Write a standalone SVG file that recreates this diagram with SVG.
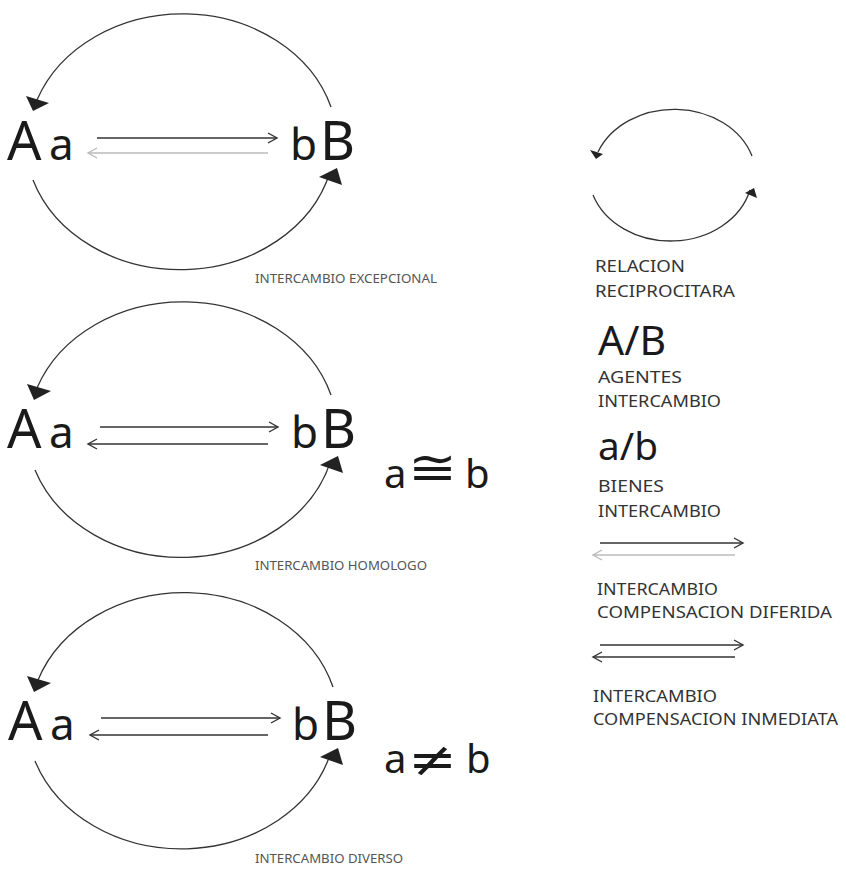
<svg xmlns="http://www.w3.org/2000/svg" width="846" height="871" viewBox="0 0 846 871">
<style>
.arc{fill:none;stroke:#333;stroke-width:1.3}
.head{fill:#222}
.big{font-family:"Noto Sans","Open Sans",sans-serif;font-size:54px;fill:#1a1a1a}
.mid{font-family:"Noto Sans","Open Sans",sans-serif;font-size:44px;fill:#1a1a1a}
.lbl{font-family:"Noto Sans","Open Sans",sans-serif;font-size:12px;fill:#555}
.leg{font-family:"Noto Sans","Open Sans",sans-serif;font-size:17px;fill:#333}
.sym{font-family:"DejaVu Sans",sans-serif;fill:#1a1a1a;font-size:48px}
.ar{stroke:#333;stroke-width:1.4;fill:none}
.ag{stroke:#bbb;stroke-width:1.4;fill:none}
</style>
<defs>
<marker id="mk" markerUnits="userSpaceOnUse" markerWidth="14" markerHeight="14" refX="10" refY="6" orient="auto">
<path d="M1,1 L10,6 L1,11" fill="none" stroke="#333" stroke-width="1.4"/>
</marker>
<marker id="mkg" markerUnits="userSpaceOnUse" markerWidth="14" markerHeight="14" refX="10" refY="6" orient="auto">
<path d="M1,1 L10,6 L1,11" fill="none" stroke="#bbb" stroke-width="1.4"/>
</marker>
</defs>

<g id="diagram-excepcional">
<g id="connectors-1">
<path class="arc" d="M331,107 A155,131 0 0 0 37,100"/>
<polygon class="head" points="26,96 49,103 33,111"/>
<path class="arc" d="M33,180 A155,131 0 0 0 330,172"/>
<polygon class="head" points="319,177 337,168 342,185"/>
<line class="ar" x1="97" y1="138" x2="277" y2="138" marker-end="url(#mk)"/>
<line class="ag" x1="268" y1="153" x2="88" y2="153" marker-end="url(#mkg)"/>
</g>
<g id="node-A-1"><text class="big" x="7" y="160">A</text><text class="mid" x="49" y="160">a</text></g>
<g id="node-B-1"><text class="mid" x="290" y="160">b</text><text class="big" x="320" y="160">B</text></g>
<text class="lbl" x="255" y="283" textLength="182" lengthAdjust="spacingAndGlyphs">INTERCAMBIO EXCEPCIONAL</text>
</g>

<g id="diagram-homologo" transform="translate(0,288)">
<g id="connectors-2">
<path class="arc" d="M331,107 A155,131 0 0 0 37,100"/>
<polygon class="head" points="27,96 51,103 34,112"/>
<path class="arc" d="M35,182 A155,131 0 0 0 331,172"/>
<polygon class="head" points="320,177 338,168 343,185"/>
<line class="ar" x1="100" y1="139" x2="278" y2="139" marker-end="url(#mk)"/>
<line class="ar" x1="268" y1="156" x2="88" y2="156" marker-end="url(#mk)"/>
</g>
<g id="node-A-2"><text class="big" x="7" y="160">A</text><text class="mid" x="49" y="160">a</text></g>
<g id="node-B-2"><text class="mid" x="291" y="160">b</text><text class="big" x="321" y="160">B</text></g>
<text class="lbl" x="255" y="282" textLength="172" lengthAdjust="spacingAndGlyphs">INTERCAMBIO HOMOLOGO</text>
</g>

<g id="eq-homologo">
<text class="mid" x="384" y="488" style="font-size:40px">a</text>
<text class="sym" transform="translate(408,484) scale(1.22,1)">≅</text>
<text class="mid" x="465" y="488" style="font-size:40px">b</text>
</g>

<g id="diagram-diverso" transform="translate(0,580)">
<g id="connectors-3">
<path class="arc" d="M333,107 A155,131 0 0 0 38,100"/>
<polygon class="head" points="27,96 51,103 34,112"/>
<path class="arc" d="M35,181 A155,131 0 0 0 331,172"/>
<polygon class="head" points="320,177 338,168 343,185"/>
<line class="ar" x1="101" y1="138" x2="280" y2="138" marker-end="url(#mk)"/>
<line class="ar" x1="268" y1="155" x2="90" y2="155" marker-end="url(#mk)"/>
</g>
<g id="node-A-3"><text class="big" x="8" y="160">A</text><text class="mid" x="50" y="160">a</text></g>
<g id="node-B-3"><text class="mid" x="292" y="160">b</text><text class="big" x="322" y="160">B</text></g>
<text class="lbl" x="255" y="283" textLength="148" lengthAdjust="spacingAndGlyphs">INTERCAMBIO DIVERSO</text>
</g>

<g id="eq-diverso">
<text class="mid" x="384" y="773" style="font-size:40px">a</text>
<text class="sym" transform="translate(408,776) scale(1.22,1)">≠</text>
<text class="mid" x="466" y="773" style="font-size:40px">b</text>
</g>

<g id="legend-relacion">
<path class="arc" d="M752,156 A82,68 0 0 0 598,152"/>
<polygon class="head" points="590,150 603,154 596,159"/>
<path class="arc" d="M593,195 A82,68 0 0 0 750,190"/>
<polygon class="head" points="745,193 754,188 757,198"/>
<text class="leg" x="595" y="272" textLength="90" lengthAdjust="spacingAndGlyphs">RELACION</text>
<text class="leg" x="595" y="297" textLength="140" lengthAdjust="spacingAndGlyphs">RECIPROCITARA</text>
</g>

<g id="legend-agentes">
<text class="leg" x="598" y="355" style="font-size:40px;fill:#1a1a1a" textLength="68" lengthAdjust="spacingAndGlyphs">A/B</text>
<text class="leg" x="598" y="383" textLength="84" lengthAdjust="spacingAndGlyphs">AGENTES</text>
<text class="leg" x="598" y="407" textLength="123" lengthAdjust="spacingAndGlyphs">INTERCAMBIO</text>
</g>

<g id="legend-bienes">
<text class="leg" x="598" y="460" style="font-size:38px;fill:#1a1a1a" textLength="60" lengthAdjust="spacingAndGlyphs">a/b</text>
<text class="leg" x="598" y="492" textLength="66" lengthAdjust="spacingAndGlyphs">BIENES</text>
<text class="leg" x="598" y="517" textLength="123" lengthAdjust="spacingAndGlyphs">INTERCAMBIO</text>
</g>

<g id="legend-diferida">
<line class="ar" x1="600" y1="543" x2="743" y2="543" marker-end="url(#mk)"/>
<line class="ag" x1="735" y1="555" x2="593" y2="555" marker-end="url(#mkg)"/>
<text class="leg" x="597" y="595" textLength="121" lengthAdjust="spacingAndGlyphs">INTERCAMBIO</text>
<text class="leg" x="597" y="618" textLength="235" lengthAdjust="spacingAndGlyphs">COMPENSACION DIFERIDA</text>
</g>

<g id="legend-inmediata">
<line class="ar" x1="600" y1="645" x2="743" y2="645" marker-end="url(#mk)"/>
<line class="ar" x1="735" y1="657" x2="593" y2="657" marker-end="url(#mk)"/>
<text class="leg" x="593" y="702" textLength="124" lengthAdjust="spacingAndGlyphs">INTERCAMBIO</text>
<text class="leg" x="593" y="725" textLength="245" lengthAdjust="spacingAndGlyphs">COMPENSACION INMEDIATA</text>
</g>
</svg>
